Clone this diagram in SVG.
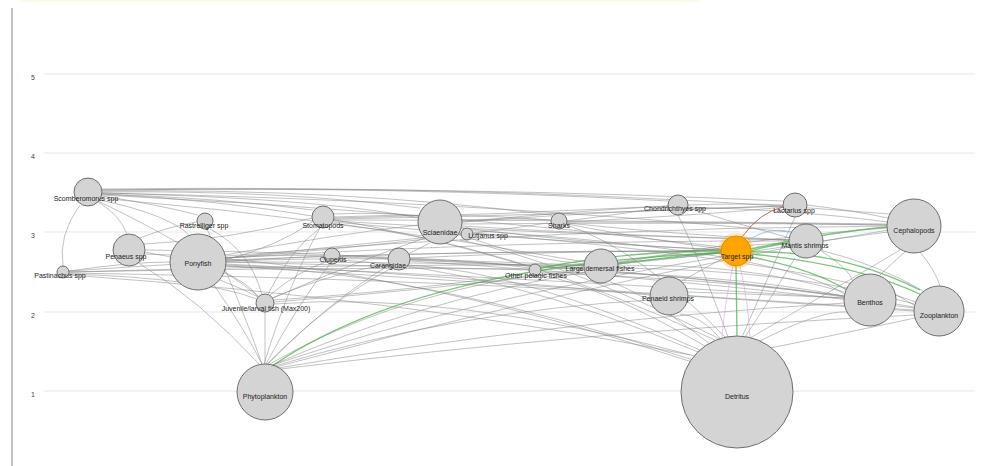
<svg xmlns="http://www.w3.org/2000/svg" width="981" height="466" viewBox="0 0 981 466">
<style>
.grid{stroke:#e8e8e8;stroke-width:1.2;fill:none}
.tick{font-family:"Liberation Sans",Arial,sans-serif;font-size:7px;fill:#444;text-anchor:middle}
.e{fill:none;stroke:#808080;stroke-width:0.75;stroke-opacity:0.65}
.g{fill:none;stroke:#4caf50;stroke-width:1.3;stroke-opacity:0.75}
.r{fill:none;stroke:#b0503a;stroke-width:1;stroke-opacity:0.85}
.b{fill:none;stroke:#8cbbe0;stroke-width:1;stroke-opacity:0.8}
.p{fill:none;stroke:#d6a8e0;stroke-width:0.8;stroke-opacity:0.8}
.n{fill:#d4d4d4;stroke:#6e6e6e;stroke-width:1}
.t{font-family:"Liberation Sans",Arial,sans-serif;font-size:7px;fill:#222;text-anchor:middle}
</style>
<rect width="981" height="466" fill="#ffffff"/>
<rect x="20" y="0" width="680" height="2" fill="#f7f0b0" opacity="0.3"/>
<g id="axis">
<line x1="12" y1="8" x2="12" y2="466" stroke="#9a9a9a" stroke-width="1.2"/>
<line class="grid" x1="44" y1="74" x2="975" y2="74"/>
<line class="grid" x1="44" y1="153" x2="975" y2="153"/>
<line class="grid" x1="44" y1="232" x2="975" y2="232"/>
<line class="grid" x1="44" y1="312" x2="975" y2="312"/>
<line class="grid" x1="44" y1="391" x2="975" y2="391"/>
<text class="tick" x="33" y="80">5</text>
<text class="tick" x="33" y="159">4</text>
<text class="tick" x="33" y="238">3</text>
<text class="tick" x="33" y="318">2</text>
<text class="tick" x="33" y="397">1</text>
</g>
<g id="connectors">
<path class="e" d="M 80 205 Q 58 235 63 266"/>
<path class="e" d="M 98 202 Q 120 215 127 234"/>
<path class="e" d="M 100 200 Q 170 215 190 236"/>
<path class="e" d="M 102 196 Q 160 205 198 215"/>
<path class="e" d="M 102 194 Q 220 198 313 210"/>
<path class="e" d="M 102 192 Q 280 190 420 208"/>
<path class="e" d="M 102 191 Q 340 188 552 215"/>
<path class="e" d="M 102 190 Q 400 186 668 201"/>
<path class="e" d="M 102 190 Q 460 186 783 201"/>
<path class="e" d="M 102 189 Q 520 184 890 214"/>
<path class="e" d="M 102 193 Q 460 200 790 232"/>
<path class="e" d="M 102 195 Q 420 210 722 247"/>
<path class="e" d="M 100 198 Q 350 220 585 262"/>
<path class="e" d="M 98 201 Q 200 250 258 296"/>
<path class="e" d="M 102 194 Q 330 205 527 266"/>
<path class="e" d="M 102 193 Q 380 200 460 229"/>
<path class="e" d="M 69 271 Q 130 262 170 262"/>
<path class="e" d="M 69 272 Q 300 267 529 269"/>
<path class="e" d="M 69 272 Q 330 264 584 265"/>
<path class="e" d="M 69 273 Q 380 278 650 294"/>
<path class="e" d="M 69 274 Q 200 278 257 299"/>
<path class="e" d="M 69 275 Q 420 300 690 355"/>
<path class="e" d="M 69 271 Q 200 262 324 256"/>
<path class="e" d="M 140 238 Q 170 226 197 222"/>
<path class="e" d="M 144 244 Q 230 240 312 218"/>
<path class="e" d="M 144 252 Q 240 268 258 297"/>
<path class="e" d="M 145 250 Q 300 252 388 258"/>
<path class="e" d="M 226 260 Q 280 245 312 222"/>
<path class="e" d="M 226 258 Q 290 254 324 256"/>
<path class="e" d="M 226 261 Q 320 258 388 259"/>
<path class="e" d="M 225 255 Q 330 235 418 225"/>
<path class="e" d="M 226 258 Q 350 245 461 234"/>
<path class="e" d="M 226 262 Q 380 266 529 270"/>
<path class="e" d="M 226 262 Q 420 262 584 266"/>
<path class="e" d="M 226 260 Q 480 250 721 251"/>
<path class="e" d="M 226 258 Q 520 240 789 241"/>
<path class="e" d="M 226 256 Q 560 228 887 226"/>
<path class="e" d="M 226 265 Q 560 280 844 298"/>
<path class="e" d="M 226 266 Q 600 290 914 310"/>
<path class="e" d="M 226 264 Q 450 275 650 295"/>
<path class="e" d="M 220 280 Q 245 290 258 297"/>
<path class="e" d="M 214 285 Q 245 330 262 364"/>
<path class="e" d="M 224 258 Q 400 245 548 223"/>
<path class="e" d="M 265 364 L 265 312"/>
<path class="e" d="M 262 364 Q 240 300 207 229"/>
<path class="e" d="M 264 364 Q 290 280 320 228"/>
<path class="e" d="M 266 364 Q 300 300 330 264"/>
<path class="e" d="M 267 364 Q 330 300 392 268"/>
<path class="e" d="M 268 364 Q 350 280 430 243"/>
<path class="e" d="M 260 365 Q 200 300 140 264"/>
<path class="e" d="M 268 365 Q 380 300 530 275"/>
<path class="e" d="M 270 366 Q 420 300 586 272"/>
<path class="e" d="M 271 367 Q 460 310 652 300"/>
<path class="e" d="M 272 368 Q 520 300 790 247"/>
<path class="e" d="M 272 369 Q 560 320 845 303"/>
<path class="e" d="M 272 370 Q 600 330 915 315"/>
<path class="e" d="M 270 366 Q 520 280 888 232"/>
<path class="e" d="M 262 295 Q 250 250 210 229"/>
<path class="e" d="M 268 294 Q 290 250 320 228"/>
<path class="e" d="M 270 295 Q 300 270 326 262"/>
<path class="e" d="M 272 298 Q 340 270 390 265"/>
<path class="e" d="M 273 298 Q 360 260 425 238"/>
<path class="e" d="M 274 300 Q 420 290 528 273"/>
<path class="e" d="M 274 302 Q 430 290 585 270"/>
<path class="e" d="M 334 214 Q 380 212 418 216"/>
<path class="e" d="M 334 217 Q 450 212 551 220"/>
<path class="e" d="M 334 218 Q 500 215 668 206"/>
<path class="e" d="M 334 219 Q 560 215 783 206"/>
<path class="e" d="M 334 220 Q 600 220 887 224"/>
<path class="e" d="M 334 221 Q 560 235 790 240"/>
<path class="e" d="M 334 222 Q 520 240 722 250"/>
<path class="e" d="M 462 220 Q 520 218 551 220"/>
<path class="e" d="M 462 222 Q 560 212 668 206"/>
<path class="e" d="M 462 222 Q 620 210 783 206"/>
<path class="e" d="M 462 224 Q 680 222 887 225"/>
<path class="e" d="M 462 226 Q 620 236 790 240"/>
<path class="e" d="M 462 228 Q 600 245 721 250"/>
<path class="e" d="M 458 234 Q 530 260 584 264"/>
<path class="e" d="M 462 230 Q 780 250 846 295"/>
<path class="e" d="M 462 232 Q 800 260 916 302"/>
<path class="e" d="M 567 221 Q 620 214 668 207"/>
<path class="e" d="M 567 222 Q 720 214 783 207"/>
<path class="e" d="M 567 222 Q 740 222 887 225"/>
<path class="e" d="M 567 223 Q 680 235 790 240"/>
<path class="e" d="M 567 224 Q 650 240 722 249"/>
<path class="e" d="M 688 205 Q 740 203 783 205"/>
<path class="e" d="M 688 207 Q 800 210 888 222"/>
<path class="e" d="M 688 208 Q 740 225 790 238"/>
<path class="e" d="M 807 205 Q 850 210 888 218"/>
<path class="e" d="M 823 241 Q 860 235 888 230"/>
<path class="e" d="M 820 250 Q 850 270 852 280"/>
<path class="e" d="M 820 250 Q 880 265 925 292"/>
<path class="e" d="M 618 264 Q 680 258 721 253"/>
<path class="e" d="M 618 266 Q 740 262 844 292"/>
<path class="e" d="M 618 268 Q 800 270 914 304"/>
<path class="e" d="M 618 263 Q 720 245 790 243"/>
<path class="e" d="M 618 262 Q 780 235 887 228"/>
<path class="e" d="M 541 270 Q 570 268 584 267"/>
<path class="e" d="M 541 268 Q 640 262 721 253"/>
<path class="e" d="M 541 272 Q 720 272 844 296"/>
<path class="e" d="M 541 273 Q 760 280 914 307"/>
<path class="e" d="M 410 259 Q 500 262 584 265"/>
<path class="e" d="M 410 258 Q 580 250 721 251"/>
<path class="e" d="M 410 260 Q 660 270 844 297"/>
<path class="e" d="M 410 261 Q 700 280 914 308"/>
<path class="e" d="M 340 256 Q 460 258 529 268"/>
<path class="e" d="M 340 256 Q 540 250 721 252"/>
<path class="e" d="M 340 257 Q 620 265 844 296"/>
<path class="e" d="M 688 292 Q 780 295 844 298"/>
<path class="e" d="M 688 296 Q 820 305 914 311"/>
<path class="e" d="M 680 282 Q 710 265 724 258"/>
<path class="e" d="M 895 294 Q 905 300 914 305"/>
<path class="e" d="M 920 252 Q 935 270 940 286"/>
<path class="e" d="M 905 252 Q 890 265 880 275"/>
<path class="e" d="M 720 338 Q 700 315 680 314"/>
<path class="e" d="M 710 344 Q 640 290 610 282"/>
<path class="e" d="M 705 346 Q 600 285 540 275"/>
<path class="e" d="M 700 350 Q 520 270 408 265"/>
<path class="e" d="M 698 352 Q 500 268 340 260"/>
<path class="e" d="M 695 356 Q 450 290 274 304"/>
<path class="e" d="M 693 360 Q 420 270 226 266"/>
<path class="e" d="M 692 362 Q 380 260 144 254"/>
<path class="e" d="M 745 337 Q 770 300 795 258"/>
<path class="e" d="M 760 341 Q 820 310 848 312"/>
<path class="e" d="M 770 348 Q 860 330 915 318"/>
<path class="e" d="M 742 337 Q 780 250 795 217"/>
<path class="e" d="M 728 337 Q 700 260 678 215"/>
<path class="e" d="M 750 338 Q 850 280 900 250"/>
<path class="e" d="M 725 337 Q 640 250 567 225"/>
<path class="e" d="M 720 339 Q 560 260 460 240"/>
<path class="e" d="M 715 340 Q 500 240 334 224"/>
<path class="p" d="M 733 266 Q 725 300 722 337"/>
<path class="p" d="M 740 266 Q 748 300 750 338"/>
<path class="g" d="M 272 366 Q 420 265 721 253"/>
<path class="g" d="M 736 266 L 737 336"/>
<path class="g" d="M 751 249 Q 830 232 888 227"/>
<path class="g" d="M 751 254 Q 860 265 924 296"/>
<path class="g" d="M 750 257 Q 810 268 847 290"/>
<path class="g" d="M 751 251 Q 770 245 790 243"/>
<path class="g" d="M 721 250 Q 620 252 541 268"/>
<path class="g" d="M 721 252 Q 660 258 618 264"/>
<path class="g" d="M 751 252 Q 840 250 920 290"/>
<path class="r" d="M 742 237 Q 760 212 783 207"/>
<path class="b" d="M 748 240 Q 770 226 792 232"/>
</g>
<g id="n-scomberomorus"><circle class="n" cx="88" cy="192" r="14"/><text class="t" x="86" y="201">Scomberomorus spp</text></g>
<g id="n-pastinachus"><circle class="n" cx="63" cy="272" r="6"/><text class="t" x="60" y="278">Pastinachus spp</text></g>
<g id="n-penaeus"><circle class="n" cx="129" cy="250" r="16"/><text class="t" x="126" y="259">Penaeus spp</text></g>
<g id="n-ponyfish"><circle class="n" cx="198" cy="262" r="28"/><text class="t" x="198" y="266">Ponyfish</text></g>
<g id="n-rastrelliger"><circle class="n" cx="205" cy="221" r="8"/><text class="t" x="204" y="228">Rastrelliger spp</text></g>
<g id="n-juvenile"><circle class="n" cx="265" cy="303" r="9"/><text class="t" x="266" y="311">Juvenile/larval fish (Max200)</text></g>
<g id="n-phytoplankton"><circle class="n" cx="265" cy="392" r="28"/><text class="t" x="265" y="399">Phytoplankton</text></g>
<g id="n-stomatopods"><circle class="n" cx="323" cy="217" r="11"/><text class="t" x="323" y="228">Stomatopods</text></g>
<g id="n-clupeids"><circle class="n" cx="332" cy="256" r="8"/><text class="t" x="333" y="262">Clupeids</text></g>
<g id="n-carangidae"><circle class="n" cx="399" cy="259" r="11"/><text class="t" x="388" y="268">Carangidae</text></g>
<g id="n-sciaenidae"><circle class="n" cx="440" cy="222" r="22"/><text class="t" x="440" y="235">Sciaenidae</text></g>
<g id="n-lutjanus"><circle class="n" cx="467" cy="234" r="6"/><text class="t" x="488" y="238">Lutjanus spp</text></g>
<g id="n-sharks"><circle class="n" cx="559" cy="221" r="8"/><text class="t" x="559" y="228">Sharks</text></g>
<g id="n-otherpelagic"><circle class="n" cx="535" cy="270" r="6"/><text class="t" x="536" y="278">Other pelagic fishes</text></g>
<g id="n-largedemersal"><circle class="n" cx="601" cy="266" r="17"/><text class="t" x="600" y="271">Large demersal fishes</text></g>
<g id="n-chondrichthyes"><circle class="n" cx="678" cy="205" r="10"/><text class="t" x="675" y="211">Chondrichthyes spp</text></g>
<g id="n-penaeidshrimps"><circle class="n" cx="669" cy="296" r="19"/><text class="t" x="668" y="301">Penaeid shrimps</text></g>
<g id="n-lactarius"><circle class="n" cx="795" cy="205" r="12"/><text class="t" x="794" y="213">Lactarius spp</text></g>
<g id="n-mantis"><circle class="n" cx="806" cy="241" r="17"/><text class="t" x="805" y="248">Mantis shrimps</text></g>
<g id="n-cephalopods"><circle class="n" cx="914" cy="226" r="27"/><text class="t" x="914" y="233">Cephalopods</text></g>
<g id="n-benthos"><circle class="n" cx="870" cy="300" r="26"/><text class="t" x="870" y="305">Benthos</text></g>
<g id="n-zooplankton"><circle class="n" cx="939" cy="311" r="25"/><text class="t" x="939" y="318">Zooplankton</text></g>
<g id="n-detritus"><circle class="n" cx="737" cy="392" r="56"/><text class="t" x="737" y="399">Detritus</text></g>
<g id="n-target"><circle cx="736" cy="251" r="18" fill="#ffa500" opacity="0.25"/><circle cx="736" cy="251" r="15" fill="#ffa500" stroke="#e08a00" stroke-width="1"/><text class="t" x="737" y="259">Target spp</text></g>
</svg>
